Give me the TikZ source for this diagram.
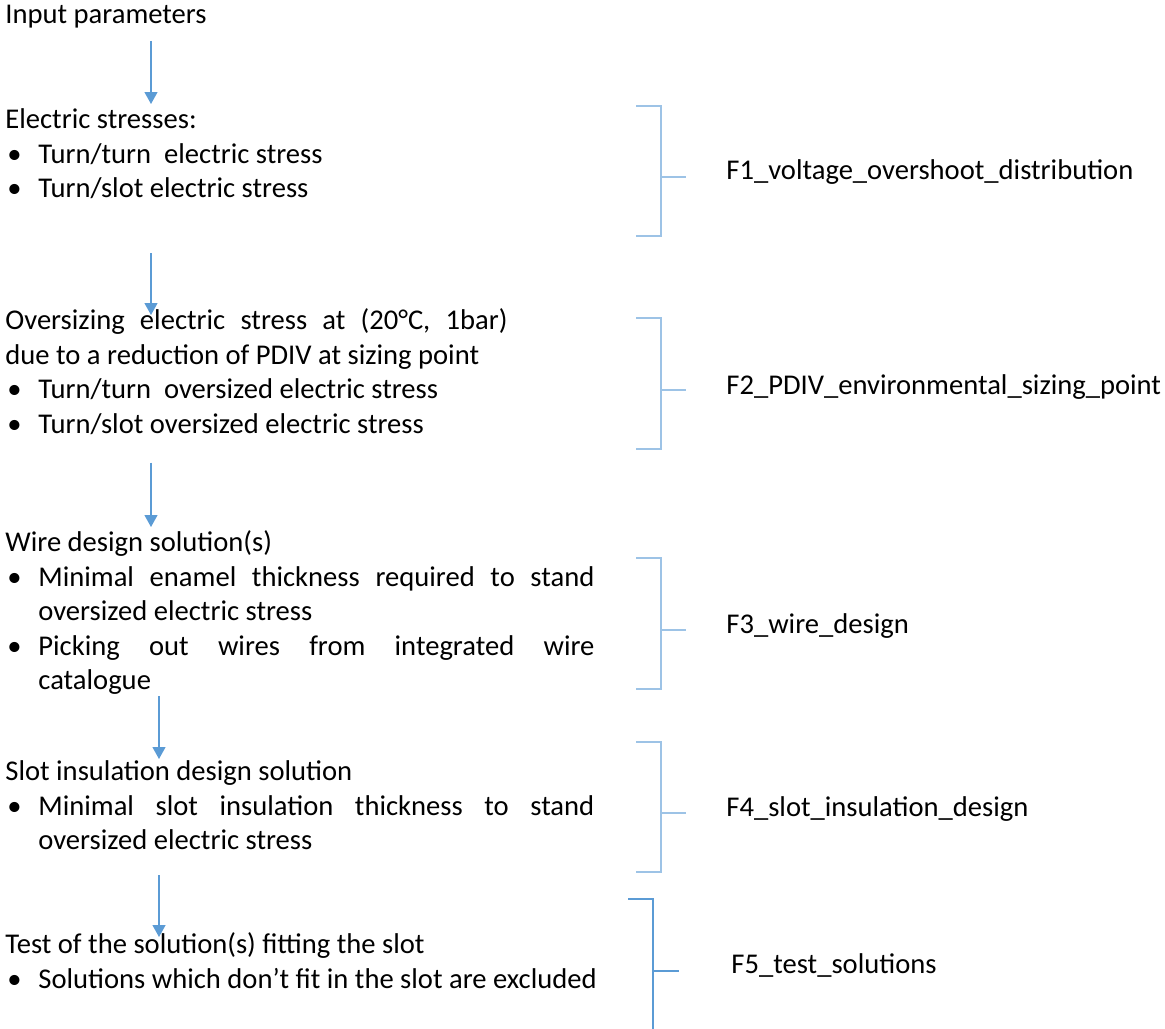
\documentclass[tikz,border=0pt]{standalone}
\usepackage{fontspec}
\setmainfont{Carlito}
\usepackage{tikz}
\usetikzlibrary{arrows.meta, positioning, calc}
\definecolor{flowblue}{HTML}{5B9BD5}
\definecolor{bracketblue}{HTML}{9DC3E6}
\tikzstyle{stage} = [inner sep=0pt, anchor=north west, align=left, font=\fontsize{14.3}{17.3}\selectfont]
\tikzstyle{fname} = [inner sep=0pt, anchor=base west, font=\fontsize{14.3}{17.3}\selectfont]
\tikzstyle{line} = [draw=flowblue, line width=0.6pt, -{Triangle[width=6.5pt,length=6pt]}]
\tikzstyle{bracket} = [draw=bracketblue, line width=0.8pt]
\newcommand{\blockstrut}{\rule[-4pt]{0pt}{16pt}}
\newcommand{\itemmark}{\hspace*{1pt}\makebox[15.5pt][l]{\textbullet}}
\newcommand{\itemgap}{\hspace*{16.5pt}}
\newcommand{\fullline}[2]{\makebox[#1][s]{#2}}

\begin{document}
\begin{tikzpicture}[x=0.5pt, y=-0.5pt]
        \useasboundingbox (0,0) rectangle (1165,1028);

        % Nodes
        \node [stage] (input) at (5,-1) {\blockstrut Input parameters};
        \node [stage] (stress) at (5,104) {\blockstrut Electric stresses:\\
            \itemmark Turn/turn\ \ electric stress\\
            \itemmark Turn/slot electric stress\blockstrut};
        \node [stage] (oversize) at (5,305) {\blockstrut\fullline{251pt}{Oversizing electric stress at (20°C, 1bar)}\\
            due to a reduction of PDIV at sizing point\\
            \itemmark Turn/turn\ \ oversized electric stress\\
            \itemmark Turn/slot oversized electric stress\blockstrut};
        \node [stage] (wire) at (5,527) {\blockstrut Wire design solution(s)\\
            \itemmark\fullline{278pt}{Minimal enamel thickness required to stand}\\
            \itemgap oversized electric stress\\
            \itemmark\fullline{278pt}{Picking out wires from integrated wire}\\
            \itemgap catalogue\blockstrut};
        \node [stage] (slot) at (5,756) {\blockstrut Slot insulation design solution\\
            \itemmark\fullline{278pt}{Minimal slot insulation thickness to stand}\\
            \itemgap oversized electric stress\blockstrut};
        \node [stage] (test) at (5,929) {\blockstrut Test of the solution(s) fitting the slot\\
            \itemmark Solutions which don’t fit in the slot are excluded\blockstrut};

        % Paths
        \coordinate (col1) at (151,0);
        \coordinate (col2) at (159,0);
        \draw [line, shorten <=4.5pt] (input.south -| col1) -- (stress.north -| col1);
        \draw [line, shorten <=23.5pt, shorten >=-5pt] (stress.south -| col1) -- (oversize.north -| col1);
        \draw [line, shorten <=10.5pt] (oversize.south -| col1) -- (wire.north -| col1);
        \draw [line, shorten <=-1pt, shorten >=-1.5pt] (wire.south -| col2) -- (slot.north -| col2);
        \draw [line, shorten <=8.5pt, shorten >=-4pt] (slot.south -| col2) -- (test.north -| col2);

        % Brackets
        \foreach \ya/\yb/\ym in {106/236/177, 318/449/390, 558/689/630, 742/872/813} {
            \draw [bracket] (636,\ya) -- (661,\ya) -- (661,\yb) -- (636,\yb);
            \draw [bracket] (661,\ym) -- (686,\ym);
        }
        \draw [bracket, draw=flowblue] (628,899) -- (653,899) -- (653,1030);
        \draw [bracket, draw=flowblue] (653,971) -- (679,971);

        % Labels
        \node [fname] (f1) at (726,179) {F1\_voltage\_overshoot\_distribution};
        \node [fname] (f2) at (726,394) {F2\_PDIV\_environmental\_sizing\_point};
        \node [fname] (f3) at (726,633) {F3\_wire\_design};
        \node [fname] (f4) at (726,816) {F4\_slot\_insulation\_design};
        \node [fname] (f5) at (731,973) {F5\_test\_solutions};
    \end{tikzpicture}
\end{document}
